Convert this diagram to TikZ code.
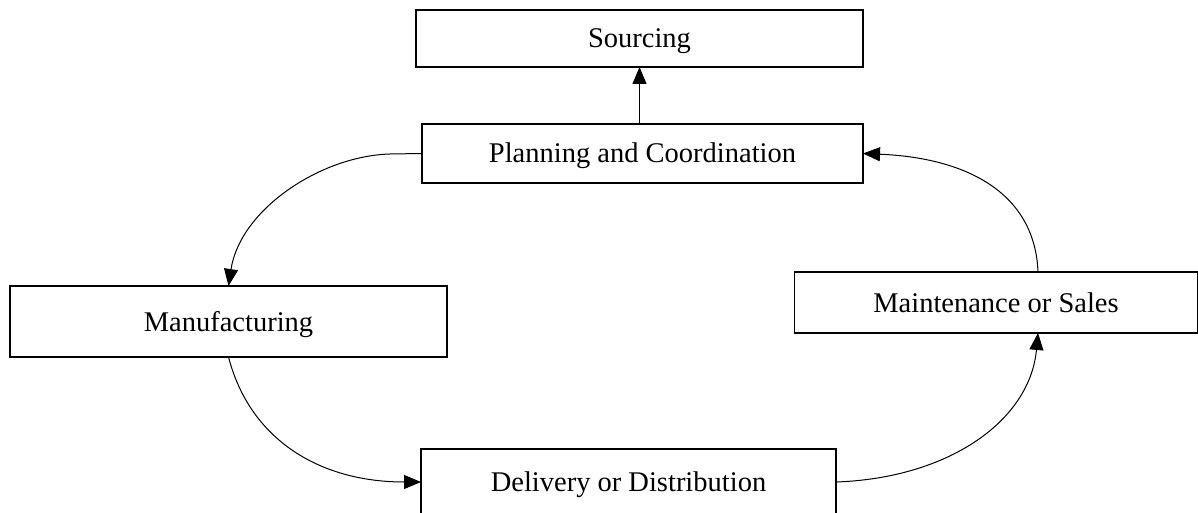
\documentclass[tikz,border=0pt]{standalone}
\usepackage{fontspec}
\setmainfont{Liberation Serif}
\usetikzlibrary{arrows.meta,calc}
\begin{document}
\begin{tikzpicture}[x=0.5pt,y=-0.5pt,
  box/.style={draw, line width=0.65pt, inner sep=0pt, outer sep=0pt,
    text height=11.5pt, text depth=2pt,
    font=\fontsize{14.25pt}{17pt}\selectfont},
  arr/.style={line width=0.5pt, -{Triangle[length=8.5pt,width=7pt]}}]
\useasboundingbox (0,0) rectangle (1198,513);
\node[box, minimum width=223.5pt, minimum height=28.5pt] (src) at (639.5,38.5) {Sourcing};
\node[box, minimum width=220.5pt, minimum height=29.5pt] (plan) at (642.5,153.5) {Planning and Coordination};
\node[box, minimum width=218.5pt, minimum height=35.5pt] (man) at (228.5,321.5) {Manufacturing};
\node[box, minimum width=201.5pt, minimum height=30.5pt] (mnt) at (996,302.5) {Maintenance or Sales};
\node[box, minimum width=207.5pt, minimum height=33pt] (del) at (628.5,482) {Delivery or Distribution};
\draw[arr] (src.south |- plan.north) -- (src.south);
\draw[arr] (plan.west) -- (390,154) .. controls (320,156) and (240,210) .. (man.north);
\draw[arr] (man.south) .. controls (250,440) and (320,482) .. (del.west);
\draw[arr] (del.east) .. controls (950,478) and (1030,420) .. ($(mnt.south)+(42,0)$);
\draw[arr] ($(mnt.north)+(42,0)$) .. controls (1035,195) and (970,158) .. (plan.east);
\end{tikzpicture}
\end{document}
